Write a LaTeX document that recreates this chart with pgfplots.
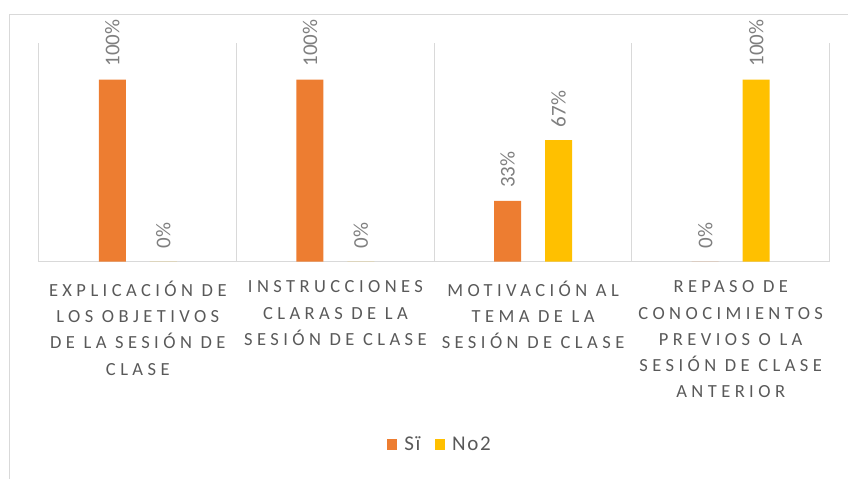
\documentclass[border=0pt]{standalone}
\usepackage{fontspec}
\setmainfont{Carlito}
\newfontfamily\catfont[LetterSpace=24]{Carlito}
\newfontfamily\legfont[LetterSpace=8]{Carlito}
\usepackage{pgfplots}
\pgfplotsset{compat=1.18}
\definecolor{sio}{HTML}{ED7D31}
\definecolor{noc}{HTML}{FFC000}
\definecolor{gridgray}{HTML}{D9D9D9}
\definecolor{txtgray}{HTML}{595959}
\definecolor{lblgray}{HTML}{7F7F7F}

\begin{document}
\begin{tikzpicture}
% page = 848 x 479 bp, origin top left
\path (0,0) rectangle (848bp,-479bp);
\draw[gridgray, line width=1bp] (10bp,-479bp) -- (10bp,-14.5bp) -- (848bp,-14.5bp);
\begin{axis}[
    at={(39bp,-261.7bp)}, anchor=south west,
    scale only axis, width=791bp, height=218.4bp,
    xmin=0.5, xmax=4.5, ymin=0, ymax=120,
    ybar=24bp, bar width=27bp,
    axis x line=bottom, axis y line=none,
    x axis line style={-, draw=gridgray, line width=1bp},
    ytick=\empty,
    xtick={1,2,3,4},
    major tick length=0pt, minor tick length=0pt,
    minor xtick={0.5,1.5,2.5,3.5,4.5},
    xminorgrids=true,
    minor grid style={gridgray, line width=1bp},
    xticklabels={
        {EXPLICACIÓN DE\\LOS OBJETIVOS\\DE LA SESIÓN DE\\CLASE},
        {INSTRUCCIONES\\CLARAS DE LA\\SESIÓN DE CLASE},
        {MOTIVACIÓN AL\\TEMA DE LA\\SESIÓN DE CLASE},
        {REPASO DE\\CONOCIMIENTOS\\PREVIOS O LA\\SESIÓN DE CLASE\\ANTERIOR}},
    xticklabel style={font=\catfont\fontsize{18.5bp}{26.3bp}\selectfont,
        text=txtgray, align=center, inner sep=0pt, anchor=north, yshift=-19bp,
        execute at begin node=\strut},
    nodes near coords={\pgfmathprintnumber[fixed,precision=0,assume math mode=true]{\pgfplotspointmeta}\%},
    every node near coord/.append style={font=\fontsize{21bp}{25bp}\selectfont,
        text=lblgray, rotate=90, anchor=west, inner xsep=13bp, inner ysep=0pt},
    legend columns=-1,
    legend style={at={(0.5057,-0.838)}, anchor=center, draw=none, fill=none,
        font=\legfont\fontsize{21bp}{25bp}\selectfont, text=txtgray,
        inner sep=0pt, nodes={inner sep=0pt},
        /tikz/every odd column/.append style={column sep=7bp},
        /tikz/every even column/.append style={column sep=14bp}},
    legend image code/.code={\fill[#1] (0bp,-5.3bp) rectangle (10.7bp,5.3bp);},
]
\addplot[fill=sio, draw=none] coordinates {(1,100) (2,100) (3,33.3) (4,0)};
\addplot[fill=noc, draw=none] coordinates {(1,0) (2,0) (3,66.7) (4,100)};
\legend{Sï, No2}
\end{axis}
\end{tikzpicture}
\end{document}
